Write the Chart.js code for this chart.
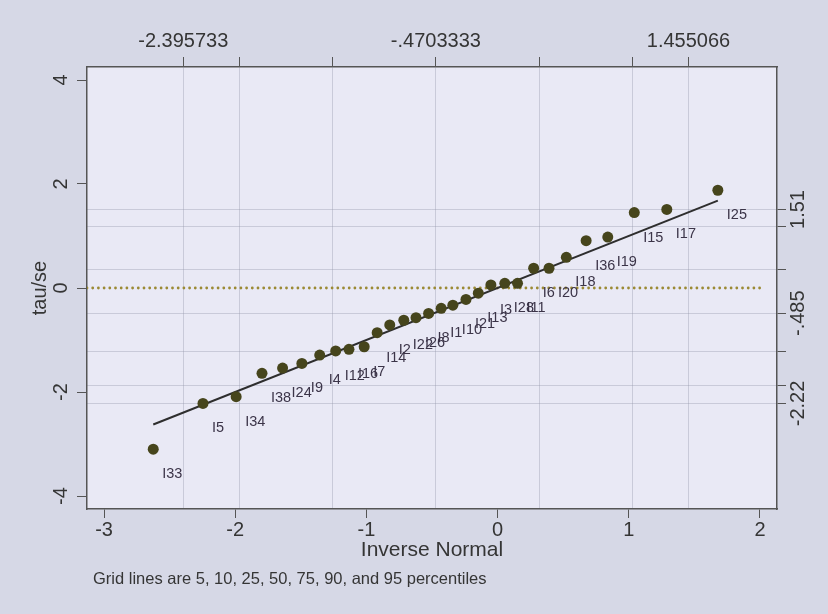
<!DOCTYPE html>
<html>
<head>
<meta charset="utf-8">
<title>qnorm tau/se</title>
<script src="https://cdn.jsdelivr.net/npm/chart.js@4.4.1/dist/chart.umd.min.js"></script>
<style>
  html, body { margin: 0; padding: 0; background: #d6d8e6; }
  canvas { display: block; }
</style>
</head>
<body>
<canvas id="qnorm" width="828" height="614"></canvas>
<script>
// values (x = inverse normal, y = tau/se)
const invNormal = [-2.625, -2.246, -1.993, -1.796, -1.639, -1.492, -1.356, -1.234, -1.133, -1.017,
                   -0.918, -0.822, -0.715, -0.622, -0.526, -0.430, -0.341, -0.241, -0.147, -0.051,
                    0.055,  0.152,  0.275,  0.392,  0.524,  0.675,  0.840,  1.042,  1.290,  1.679];
const tauSe     = [-3.10, -2.22, -2.09, -1.64, -1.54, -1.45, -1.29, -1.21, -1.18, -1.13,
                   -0.86, -0.71, -0.62, -0.57, -0.49, -0.39, -0.33, -0.22, -0.10,  0.06,
                    0.09,  0.09,  0.38,  0.38,  0.59,  0.91,  0.98,  1.45,  1.51,  1.88];
const itemLabels = ['I33', 'I5', 'I34', 'I38', 'I24', 'I9', 'I4', 'I12', 'I16', 'I7',
                    'I14', 'I2', 'I22', 'I26', 'I8', 'I1', 'I10', 'I21', 'I13', 'I3',
                    'I28', 'I11', 'I6', 'I20', 'I18', 'I36', 'I19', 'I15', 'I17', 'I25'];

const xTicks = [-3, -2, -1, 0, 1, 2];
const yTicks = [-4, -2, 0, 2, 4];
// grid lines at 5, 10, 25, 50, 75, 90, 95 percentiles
const xPctl       = [-2.395733, -1.97, -1.26, -0.4703333, 0.319, 1.03, 1.455066];
const xPctlLabels = ['-2.395733', '', '', '-.4703333', '', '', '1.455066'];
const yPctl       = [1.51, 1.19, 0.35, -0.485, -1.23, -1.88, -2.22];
const yPctlLabels = ['1.51', '', '', '-.485', '', '', '-2.22'];

const X_MIN = -3.13, X_MAX = 2.13;
const Y_MIN = -4.25, Y_MAX = 4.25;
const zeroLineEnd = 2.04;

const FONT = "'Liberation Sans', Arial, sans-serif";
const INK = '#353535';
const FRAME = '#555555';
const GRID = 'rgba(150,152,170,0.38)';

const fitLine = [
  { x: invNormal[0], y: invNormal[0] },
  { x: invNormal[invNormal.length - 1], y: invNormal[invNormal.length - 1] },
];

const backdrop = {
  id: 'backdrop',
  beforeDraw(chart) {
    const { ctx, chartArea: a, width, height } = chart;
    ctx.save();
    ctx.fillStyle = '#d6d8e6';
    ctx.fillRect(0, 0, width, height);
    ctx.fillStyle = '#e9e9f5';
    ctx.fillRect(a.left, a.top, a.right - a.left, a.bottom - a.top);
    ctx.restore();
  }
};

// point labels, rotated y tick labels, titles and note
const textLayer = {
  id: 'textLayer',
  afterDraw(chart) {
    const { ctx, chartArea: a, scales } = chart;
    ctx.save();
    ctx.font = '14.5px ' + FONT;
    ctx.fillStyle = '#3b3448';
    ctx.textAlign = 'left';
    ctx.textBaseline = 'middle';
    invNormal.forEach((x, i) => {
      ctx.fillText(itemLabels[i],
        scales.x.getPixelForValue(x) + 9,
        scales.y.getPixelForValue(tauSe[i]) + 25);
    });

    const vText = (txt, px, py, size) => {
      ctx.save();
      ctx.translate(px, py);
      ctx.rotate(-Math.PI / 2);
      ctx.font = size + 'px ' + FONT;
      ctx.fillStyle = INK;
      ctx.textAlign = 'center';
      ctx.textBaseline = 'middle';
      ctx.fillText(txt, 0, 0);
      ctx.restore();
    };
    yTicks.forEach(v => vText(String(v), a.left - 26, scales.y.getPixelForValue(v), 20));
    yPctl.forEach((v, i) => {
      if (yPctlLabels[i]) vText(yPctlLabels[i], a.right + 21, scales.y2.getPixelForValue(v), 20);
    });
    vText('tau/se', a.left - 47, (a.top + a.bottom) / 2, 20);

    ctx.fillStyle = INK;
    ctx.font = '21px ' + FONT;
    ctx.textAlign = 'center';
    ctx.fillText('Inverse Normal', (a.left + a.right) / 2, a.bottom + 41);
    ctx.font = '16.5px ' + FONT;
    ctx.textAlign = 'left';
    ctx.fillText('Grid lines are 5, 10, 25, 50, 75, 90, and 95 percentiles', 93, a.bottom + 70);
    ctx.restore();
  }
};

new Chart(document.getElementById('qnorm'), {
  type: 'scatter',
  data: {
    datasets: [
      {
        label: 'tau/se',
        data: invNormal.map((x, i) => ({ x, y: tauSe[i] })),
        pointRadius: 5.5,
        pointBackgroundColor: '#46451c',
        pointBorderWidth: 0,
      },
      {
        label: 'fit',
        type: 'line',
        data: fitLine,
        borderColor: '#2e2e2e',
        borderWidth: 2,
        pointRadius: 0,
      },
      {
        label: 'zero',
        type: 'line',
        data: [{ x: X_MIN, y: 0 }, { x: zeroLineEnd, y: 0 }],
        borderColor: '#9b8a34',
        borderWidth: 2.8,
        borderDash: [0, 5.7],
        borderCapStyle: 'round',
        pointRadius: 0,
      },
    ],
  },
  options: {
    responsive: false,
    animation: false,
    devicePixelRatio: 1,
    layout: { padding: 0 },
    plugins: { legend: { display: false }, tooltip: { enabled: false } },
    scales: {
      x: {
        type: 'linear', position: 'bottom', min: X_MIN, max: X_MAX,
        afterBuildTicks: s => { s.ticks = xTicks.map(v => ({ value: v })); },
        afterFit: s => { s.height = 105; },
        ticks: { font: { size: 20, family: FONT }, color: INK, padding: 0, maxRotation: 0, autoSkip: false },
        grid: { drawOnChartArea: false, tickLength: 9, tickColor: FRAME },
        border: { color: FRAME, width: 1.5 },
      },
      x2: {
        type: 'linear', position: 'top', min: X_MIN, max: X_MAX,
        afterBuildTicks: s => { s.ticks = xPctl.map(v => ({ value: v })); },
        afterFit: s => { s.height = 67; },
        ticks: { callback: (v, i) => xPctlLabels[i], font: { size: 20, family: FONT }, color: INK, padding: 4, maxRotation: 0, autoSkip: false },
        grid: { color: GRID, tickColor: FRAME, tickLength: 10, lineWidth: 1 },
        border: { color: FRAME, width: 1.5 },
      },
      y: {
        type: 'linear', position: 'left', min: Y_MIN, max: Y_MAX,
        afterBuildTicks: s => { s.ticks = yTicks.map(v => ({ value: v })); },
        afterFit: s => { s.width = 87; },
        ticks: { display: false },
        grid: { drawOnChartArea: false, tickLength: 10, tickColor: FRAME },
        border: { color: FRAME, width: 1.5 },
      },
      y2: {
        type: 'linear', position: 'right', min: Y_MIN, max: Y_MAX,
        afterBuildTicks: s => { s.ticks = yPctl.map(v => ({ value: v })); },
        afterFit: s => { s.width = 51; },
        ticks: { display: false },
        grid: { color: GRID, tickColor: FRAME, tickLength: 9, lineWidth: 1 },
        border: { color: FRAME, width: 1.5 },
      },
    },
  },
  plugins: [backdrop, textLayer],
});
</script>
</body>
</html>
